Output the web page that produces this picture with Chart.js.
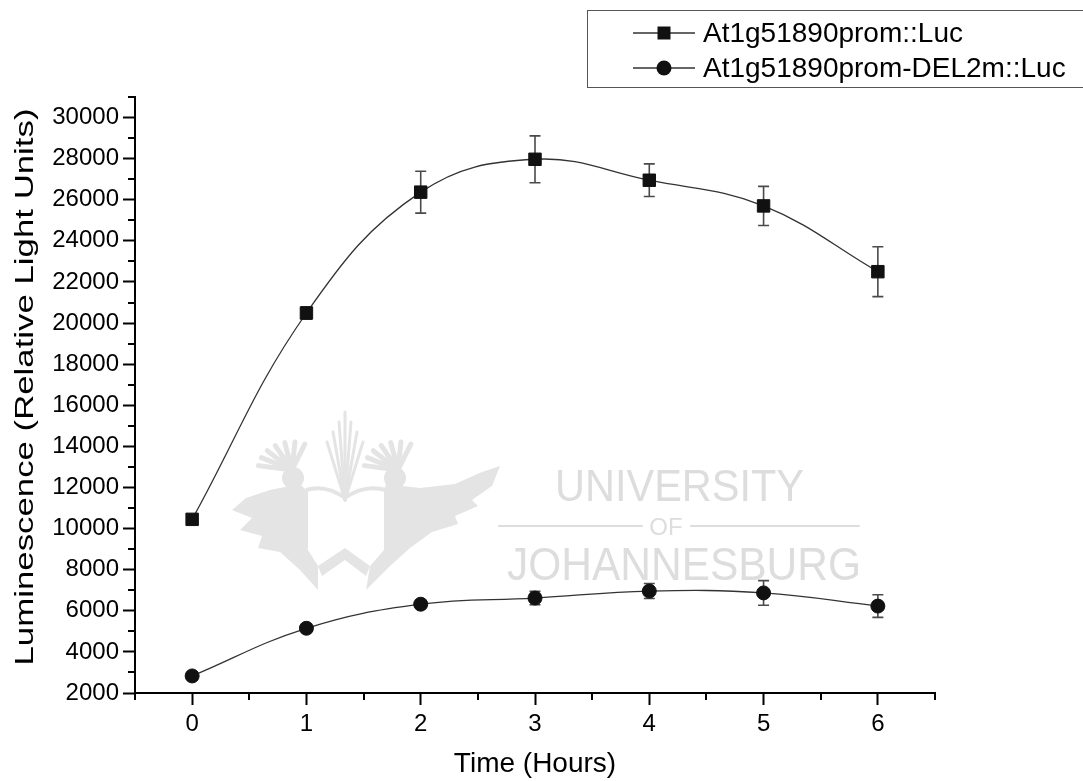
<!DOCTYPE html>
<html>
<head>
<meta charset="utf-8">
<script src="https://cdn.jsdelivr.net/npm/chart.js@4.4.1/dist/chart.umd.min.js"></script>
<style>
  html, body { margin: 0; padding: 0; background: #ffffff; }
  #wrap { width: 1083px; height: 781px; position: relative; }
  canvas { display: block; }
</style>
</head>
<body>
<div id="wrap"><canvas id="chart" width="1083" height="781"></canvas></div>
<script>
// Luciferase time course: mean luminescence and error per hour
const hours = [0, 1, 2, 3, 4, 5, 6];
const xTickValues = [0, 1, 2, 3, 4, 5, 6];
const yTickValues = [2000, 4000, 6000, 8000, 10000, 12000, 14000, 16000,
                     18000, 20000, 22000, 24000, 26000, 28000, 30000];

const promLuc    = [10450, 20490, 26370, 27970, 26950, 25700, 22500];
const promLucErr = [150, 300, 1020, 1140, 795, 950, 1215];

const delLuc     = [2830, 5150, 6320, 6620, 6960, 6870, 6230];
const delLucErr  = [120, 150, 180, 325, 365, 600, 550];

const seriesNames = ['At1g51890prom::Luc', 'At1g51890prom-DEL2m::Luc'];
const xTitle = 'Time (Hours)';
const yTitle = 'Luminescence (Relative Light Units)';
const watermarkLines = ['UNIVERSITY', 'OF', 'JOHANNESBURG'];

const FONT = "'Liberation Sans', Arial, Helvetica, sans-serif";
const errors = [promLucErr, delLucErr];

const toPoints = (ys) => hours.map((h, i) => ({ x: h, y: ys[i] }));

// Faint university crest and name behind the plot
const watermarkPlugin = {
  id: 'watermark',
  beforeDatasetsDraw(chart) {
    const ctx = chart.ctx;
    ctx.save();
    const g = '#e4e4e4';
    ctx.fillStyle = g;
    ctx.strokeStyle = g;
    ctx.lineJoin = 'round';

    // left wing and bird body
    ctx.beginPath();
    ctx.moveTo(300, 484); ctx.lineTo(270, 490); ctx.lineTo(246, 498);
    ctx.lineTo(232, 510); ctx.lineTo(252, 518); ctx.lineTo(240, 530);
    ctx.lineTo(262, 536); ctx.lineTo(258, 548); ctx.lineTo(280, 552);
    ctx.lineTo(300, 570); ctx.lineTo(318, 590); ctx.lineTo(318, 566);
    ctx.lineTo(308, 550); ctx.lineTo(308, 492);
    ctx.closePath(); ctx.fill();
    // right wing and bird body
    ctx.beginPath();
    ctx.moveTo(386, 484); ctx.lineTo(420, 488); ctx.lineTo(455, 484);
    ctx.lineTo(482, 472); ctx.lineTo(500, 466); ctx.lineTo(492, 486);
    ctx.lineTo(472, 500); ctx.lineTo(478, 506); ctx.lineTo(455, 516);
    ctx.lineTo(458, 524); ctx.lineTo(432, 532); ctx.lineTo(410, 548);
    ctx.lineTo(390, 566); ctx.lineTo(366, 590); ctx.lineTo(370, 566);
    ctx.lineTo(384, 550); ctx.lineTo(384, 492);
    ctx.closePath(); ctx.fill();
    // lower point between the bodies
    ctx.beginPath();
    ctx.moveTo(318, 566); ctx.lineTo(345, 548); ctx.lineTo(370, 566);
    ctx.lineTo(366, 576); ctx.lineTo(345, 560); ctx.lineTo(322, 576);
    ctx.closePath(); ctx.fill();

    // open book across the top
    ctx.lineWidth = 4;
    ctx.beginPath();
    ctx.moveTo(306, 490);
    ctx.quadraticCurveTo(326, 484, 345, 498);
    ctx.quadraticCurveTo(364, 484, 386, 490);
    ctx.stroke();

    // heads
    ctx.beginPath(); ctx.arc(293, 478, 11, 0, Math.PI * 2); ctx.fill();
    ctx.beginPath(); ctx.arc(395, 478, 11, 0, Math.PI * 2); ctx.fill();

    // crests
    ctx.lineWidth = 5; ctx.lineCap = 'round';
    for (let k = 0; k < 7; k++) {
      const a = -Math.PI * 0.95 + k * 0.3;
      ctx.beginPath();
      ctx.moveTo(292, 470);
      ctx.lineTo(292 + Math.cos(a) * 34, 470 + Math.sin(a) * 28);
      ctx.stroke();
      ctx.beginPath();
      ctx.moveTo(398, 470);
      ctx.lineTo(398 + Math.cos(a) * 34, 470 + Math.sin(a) * 28);
      ctx.stroke();
    }
    // centre rays
    ctx.lineWidth = 3;
    for (let k = -3; k <= 3; k++) {
      ctx.beginPath();
      ctx.moveTo(345, 500);
      ctx.lineTo(345 + k * 6, 412 + Math.abs(k) * 10);
      ctx.stroke();
    }

    // name
    ctx.fillStyle = '#dddddd';
    ctx.textBaseline = 'alphabetic';
    ctx.textAlign = 'left';
    const drawFit = (text, size, x, y, width) => {
      ctx.font = size + 'px ' + FONT;
      const w = ctx.measureText(text).width;
      ctx.save();
      ctx.translate(x, y);
      ctx.scale(width / w, 1);
      ctx.fillText(text, 0, 0);
      ctx.restore();
    };
    drawFit(watermarkLines[0], 45, 555, 501, 249);
    drawFit(watermarkLines[2], 46, 507, 580, 354);
    ctx.font = '24px ' + FONT;
    ctx.textAlign = 'center';
    ctx.fillText(watermarkLines[1], 666, 535);
    ctx.strokeStyle = '#dddddd';
    ctx.lineWidth = 2;
    ctx.beginPath();
    ctx.moveTo(499, 526); ctx.lineTo(642, 526);
    ctx.moveTo(691, 526); ctx.lineTo(859, 526);
    ctx.stroke();
    ctx.restore();
  }
};

// Vertical error bars with caps, from the error arrays
const errorBarPlugin = {
  id: 'errorBars',
  beforeDatasetsDraw(chart) {
    const ctx = chart.ctx;
    const xs = chart.scales.x, ys = chart.scales.y;
    ctx.save();
    ctx.strokeStyle = '#4a4a4a';
    ctx.lineWidth = 1.6;
    chart.data.datasets.forEach((ds, di) => {
      ds.data.forEach((p, i) => {
        const e = errors[di][i];
        const px = xs.getPixelForValue(p.x);
        const top = ys.getPixelForValue(p.y + e);
        const bot = ys.getPixelForValue(p.y - e);
        ctx.beginPath();
        ctx.moveTo(px, top); ctx.lineTo(px, bot);
        ctx.moveTo(px - 5.5, top); ctx.lineTo(px + 5.5, top);
        ctx.moveTo(px - 5.5, bot); ctx.lineTo(px + 5.5, bot);
        ctx.stroke();
      });
    });
    ctx.restore();
  }
};

// Minor ticks, rotated y title and boxed legend
const decorPlugin = {
  id: 'decor',
  afterDraw(chart) {
    const ctx = chart.ctx;
    const xs = chart.scales.x, ys = chart.scales.y;
    const area = chart.chartArea;
    ctx.save();
    ctx.strokeStyle = '#000';
    ctx.lineWidth = 2;
    ctx.beginPath();
    for (let v = -0.5; v <= 6.5; v += 1) {
      const px = Math.round(xs.getPixelForValue(v));
      ctx.moveTo(px, area.bottom); ctx.lineTo(px, area.bottom + 7);
    }
    for (let v = 3000; v <= 31000; v += 2000) {
      const py = Math.round(ys.getPixelForValue(v));
      ctx.moveTo(area.left, py); ctx.lineTo(area.left - 7, py);
    }
    ctx.stroke();

    // y title
    ctx.fillStyle = '#000';
    ctx.font = '26px ' + FONT;
    const w = ctx.measureText(yTitle).width;
    ctx.translate(26, 387);
    ctx.rotate(-Math.PI / 2);
    ctx.scale(557 / w, 1);
    ctx.textAlign = 'center';
    ctx.textBaseline = 'middle';
    ctx.fillText(yTitle, 0, 0);
    ctx.restore();

    // legend
    ctx.save();
    ctx.strokeStyle = '#555';
    ctx.lineWidth = 1;
    ctx.strokeRect(587.5, 10.5, 520, 77);
    const rows = [33, 68];
    chart.data.datasets.forEach((ds, i) => {
      const y = rows[i];
      ctx.strokeStyle = '#333';
      ctx.lineWidth = 1.3;
      ctx.beginPath();
      ctx.moveTo(633, y); ctx.lineTo(695, y);
      ctx.stroke();
      ctx.fillStyle = '#111';
      if (ds.pointStyle === 'rect') {
        ctx.fillRect(664 - 6.5, y - 6.5, 13, 13);
      } else {
        ctx.beginPath(); ctx.arc(664, y, 7.5, 0, Math.PI * 2); ctx.fill();
      }
      ctx.fillStyle = '#000';
      ctx.font = '28px ' + FONT;
      ctx.textAlign = 'left';
      ctx.textBaseline = 'alphabetic';
      ctx.fillText(ds.label, 703, y + 9);
    });
    ctx.restore();
  }
};

new Chart(document.getElementById('chart'), {
  type: 'line',
  data: {
    datasets: [
      {
        label: seriesNames[0],
        data: toPoints(promLuc),
        borderColor: '#333',
        borderWidth: 1.3,
        tension: 0.4,
        pointStyle: 'rect',
        pointRadius: 8.8,
        pointBackgroundColor: '#111',
        pointBorderColor: '#111',
        pointBorderWidth: 1,
        fill: false
      },
      {
        label: seriesNames[1],
        data: toPoints(delLuc),
        borderColor: '#333',
        borderWidth: 1.3,
        tension: 0.4,
        pointStyle: 'circle',
        pointRadius: 7,
        pointBackgroundColor: '#111',
        pointBorderColor: '#111',
        pointBorderWidth: 1,
        fill: false
      }
    ]
  },
  options: {
    responsive: false,
    animation: false,
    devicePixelRatio: 1,
    layout: { padding: { top: 97, right: 148, left: 0, bottom: 0 } },
    plugins: {
      legend: { display: false },
      tooltip: { enabled: false }
    },
    scales: {
      x: {
        type: 'linear',
        min: -0.5,
        max: 6.5,
        afterBuildTicks: (s) => { s.ticks = xTickValues.map(v => ({ value: v })); },
        afterFit: (s) => { s.height = 88; },
        grid: { display: true, drawOnChartArea: false, drawTicks: true, tickLength: 12, tickWidth: 2, tickColor: '#000' },
        border: { display: true, color: '#000', width: 2 },
        ticks: { color: '#000', font: { family: FONT, size: 24 }, padding: 5, maxRotation: 0, autoSkip: false,
                 callback: (v) => String(v) },
        title: { display: true, text: xTitle, color: '#000', font: { family: FONT, size: 28 }, padding: { top: 0, bottom: 0 } }
      },
      y: {
        type: 'linear',
        min: 2000,
        max: 31000,
        afterBuildTicks: (s) => { s.ticks = yTickValues.map(v => ({ value: v })); },
        afterFit: (s) => { s.width = 135; },
        grid: { display: true, drawOnChartArea: false, drawTicks: true, tickLength: 12, tickWidth: 2, tickColor: '#000' },
        border: { display: true, color: '#000', width: 2 },
        ticks: { color: '#000', font: { family: FONT, size: 24 }, padding: 4, autoSkip: false,
                 callback: (v) => String(v) }
      }
    }
  },
  plugins: [watermarkPlugin, errorBarPlugin, decorPlugin]
});
</script>
</body>
</html>
